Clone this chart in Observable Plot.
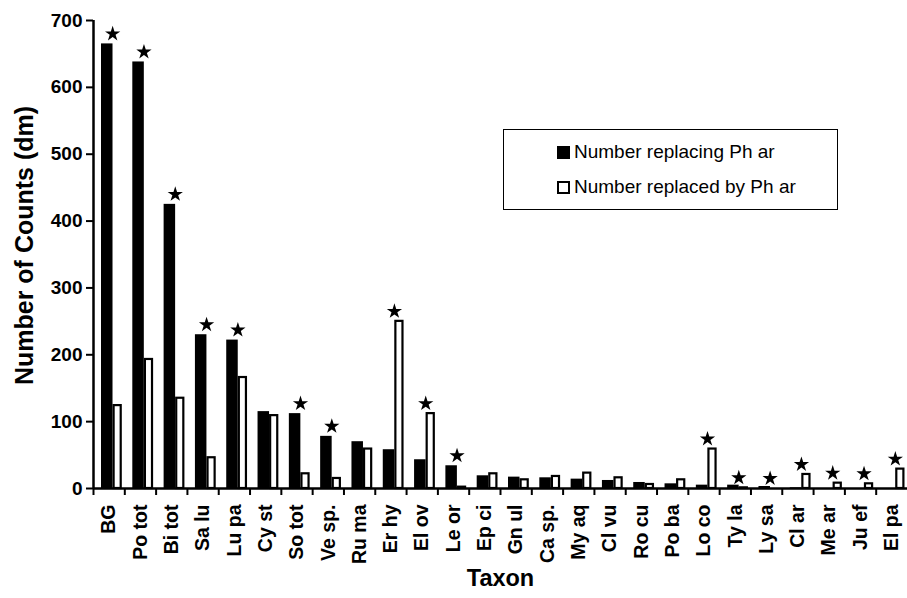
<!DOCTYPE html>
<html>
<head>
<meta charset="utf-8">
<script src="https://cdn.jsdelivr.net/npm/d3@7"></script>
<script src="https://cdn.jsdelivr.net/npm/@observablehq/plot@0.6"></script>
<style>
  html, body { margin: 0; padding: 0; background: #fff; }
  #chart { position: relative; width: 907px; height: 598px; }
  #legend {
    position: absolute; left: 503px; top: 129px; width: 333px; height: 79px;
    border: 1.5px solid #000; background: #fff;
    font-family: "Liberation Sans", Arial, sans-serif; font-size: 19px; color: #000;
  }
  .row { position: absolute; left: 53px; display: flex; align-items: center; white-space: nowrap; }
  .sw { width: 13px; height: 13px; margin-right: 4px; box-sizing: border-box; }
</style>
</head>
<body>
<div id="chart"></div>
<script>
const taxa = ["BG","Po tot","Bi tot","Sa lu","Lu pa","Cy st","So tot","Ve sp.","Ru ma","Er hy","El ov","Le or","Ep ci","Gn ul","Ca sp.","My aq","Cl vu","Ro cu","Po ba","Lo co","Ty la","Ly sa","Cl ar","Me ar","Ju ef","El pa"];
const replacing  = [665,638,425,230,222,115,112,78,70,58,43,34,19,17,16,14,12,9,7,5,5,3,1,0,0,0];
const replacedBy = [124,193,135,46,166,109,22,15,59,250,112,2,22,13,18,23,16,6,13,59,1,0,21,8,7,29];
// which bar carries the significance star: "r" = replacing, "b" = replaced by, "" = none
const sig = ["r","r","r","r","r","","r","r","","b","b","r","","","","","","","","b","b","b","b","b","b","b"];
const yTicks = [0,100,200,300,400,500,600,700];
const seriesNames = ["Number replacing Ph ar", "Number replaced by Ph ar"];

const rows = taxa.map((t, i) => ({taxon: t, replacing: replacing[i], replacedBy: replacedBy[i], sig: sig[i]}));
const stars = rows.filter(d => d.sig !== "").map(d => ({taxon: d.taxon, value: d.sig === "r" ? d.replacing : d.replacedBy}));

const W = 907, H = 598, ML = 93, MR = 0, MT = 20, MB = 110;
const bw = (W - ML - MR) / taxa.length;
const font = "'Liberation Sans', Arial, Helvetica, sans-serif";

const chart = Plot.plot({
  width: W, height: H,
  marginLeft: ML, marginRight: MR, marginTop: MT, marginBottom: MB,
  style: {fontFamily: font, fontWeight: "bold", fontSize: "18px", color: "#000", background: "#fff"},
  x: {type: "band", domain: taxa, padding: 0, round: false, axis: null},
  y: {domain: [0, 700], axis: null},
  marks: [
    Plot.barY(rows, {x: "taxon", y: "replacing", fill: "#000", insetLeft: 8, insetRight: 11.8}),
    Plot.barY(rows, {x: "taxon", y: "replacedBy", fill: "#fff", stroke: "#000", strokeWidth: 2.2, insetLeft: 20.6, insetRight: 3.6}),
    Plot.ruleY([0], {stroke: "#000", strokeWidth: 2.5}),
    Plot.ruleX([taxa[0]], {x: d => d, y1: 0, y2: 700, dx: -bw / 2, stroke: "#000", strokeWidth: 2.5}),
    Plot.axisY({ticks: yTicks, tickSize: 7, tickPadding: 4, tickFormat: d3.format("d"), label: null, fontSize: 19, fontWeight: "bold", strokeWidth: 2}),
    Plot.axisX({tickSize: 0, tickRotate: -90, tickPadding: 16, label: null, fontSize: 19.5, fontWeight: "bold"}),
    Plot.axisX({tickSize: 7, tickFormat: () => "", dx: -bw / 2, label: null, strokeWidth: 2}),
    Plot.dot(stars, {x: "taxon", y: "value", symbol: "star", fill: "#000", r: 4.8, dx: 3.5, dy: -10}),
    Plot.text(["Number of Counts (dm)"], {frameAnchor: "left", textAnchor: "middle", rotate: -90, dx: -69, dy: -9, fontSize: 25, fontWeight: "bold"}),
    Plot.text(["Taxon"], {frameAnchor: "bottom", dy: 97, fontSize: 23.5, fontWeight: "bold"})
  ]
});

const container = document.getElementById("chart");
container.appendChild(chart);

const legend = document.createElement("div");
legend.id = "legend";
const fills = ["#000", "#fff"];
seriesNames.forEach((name, i) => {
  const row = document.createElement("div");
  row.className = "row";
  row.style.top = (i === 0 ? 11 : 46) + "px";
  const sw = document.createElement("span");
  sw.className = "sw";
  sw.style.background = fills[i];
  sw.style.border = "2.5px solid #000";
  const tx = document.createElement("span");
  tx.textContent = name;
  row.appendChild(sw);
  row.appendChild(tx);
  legend.appendChild(row);
});
container.appendChild(legend);
</script>
</body>
</html>
